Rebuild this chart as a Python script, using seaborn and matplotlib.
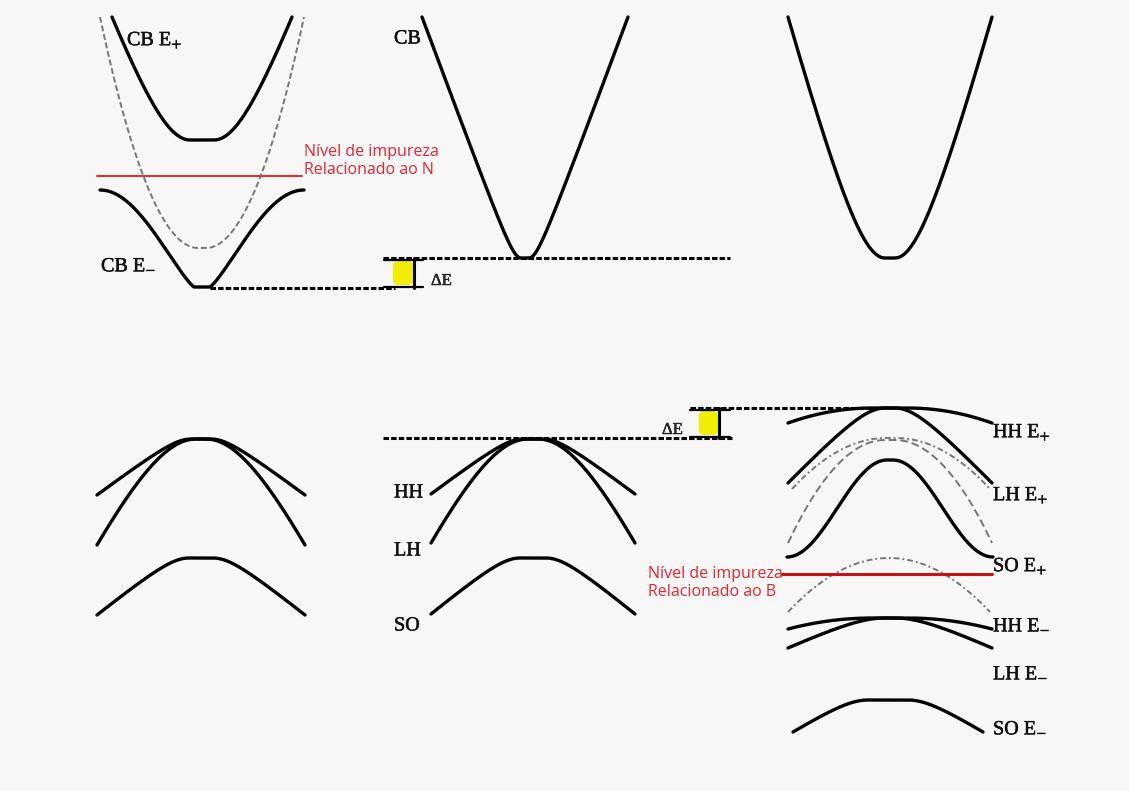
import numpy as np
import pandas as pd
import matplotlib
matplotlib.use("Agg")
import matplotlib.pyplot as plt
import matplotlib.patheffects as pe
import seaborn as sns
from matplotlib.patches import FancyBboxPatch

# ---------------- data (pixel-like units) ----------------
band_names = ["CB E+", "CB0", "CB E-", "CB", "CBr",
              "HHl", "LHl", "SOl",
              "HH", "LH", "SO",
              "HH E+", "LH E+", "gA", "gB", "SO E+", "gC", "HH E-", "LH E-", "SO E-"]
band_center = [202, 202, 202, 525, 890,
               201, 201, 201,
               533, 533, 533,
               890, 890, 891, 890, 890, 889, 890, 890, 888]
band_halfwidth = [90, 102, 102, 103, 102,
                  104, 104, 104,
                  102, 102, 102,
                  102, 102, 99, 102, 103, 101, 102, 102, 95]
band_apex = [140, 248, 287, 258, 258,
             439, 439, 558,
             439, 439, 558,
             408, 408, 438, 440, 460, 558, 618, 618, 700]
band_end = [17, 17, 190, 17, 17,
            495, 545, 615,
            494, 543, 614,
            423, 483, 489, 543, 557, 612, 629, 648, 732]
band_kind = ["hyp", "hyp", "bell", "hyp", "hyp",
             "hyp", "hyp", "hyp",
             "hyp", "hyp", "hyp",
             "hyp", "hyp", "hyp", "hyp", "bell", "hyp", "hyp", "hyp", "hyp"]
band_bend = [45, 1000, 1.2, 10, 40,
             22, 70, 25,
             22, 70, 25,
             1000, 30, 1000, 1000, 2.0, 1000, 1000, 40, 30]
band_flat = [12, 4, 8, 4, 5,
             10, 5, 12,
             10, 5, 13,
             18, 5, 5, 5, 3, 0, 18, 5, 20]

level_y = [288, 258, 438, 408]
level_x0 = [210, 383, 383, 690]
level_x1 = [395, 730, 732, 880]

impurity_y = [176, 574]
impurity_x0 = [97, 782]
impurity_x1 = [302, 992]
impurity_labels = ["Nível de impureza\nRelacionado ao N", "Nível de impureza\nRelacionado ao B"]

# ---------------- styles ----------------
gray_styles = {"CB0": (0, (3, 1.5)), "gA": (0, (3, 1.5, 1, 1.5)), "gB": (0, (4, 2)),
               "gC": (0, (3, 1.5, 1, 1.5))}

sns.set_theme(style="white")
plt.rcParams["mathtext.fontset"] = "stix"
plt.rcParams["font.family"] = ["Liberation Serif", "DejaVu Serif"]

fig = plt.figure(figsize=(11.29, 7.91), dpi=100)
bg = "#f7f7f7"
fig.patch.set_facecolor(bg)
ax = fig.add_axes([0, 0, 1, 1])
ax.set_facecolor(bg)
ax.set_xlim(0, 1129)
ax.set_ylim(791, 0)
ax.axis("off")


def band_curve(c, hw, apex, end, kind, bend, flat):
    xs = np.linspace(c - hw, c + hw, 400)
    d = np.clip(np.abs(xs - c) - flat, 0, None)
    D = hw - flat
    if kind == "hyp":
        f = (np.sqrt(1 + (d / bend) ** 2) - 1) / (np.sqrt(1 + (D / bend) ** 2) - 1)
    else:
        f = np.sin(np.pi / 2 * d / D) ** bend
    return xs, apex + (end - apex) * f


for i, name in enumerate(band_names):
    xs, ys = band_curve(band_center[i], band_halfwidth[i], band_apex[i], band_end[i],
                        band_kind[i], band_bend[i], band_flat[i])
    df = pd.DataFrame({"k": xs, "E": ys})
    if name in gray_styles:
        sns.lineplot(data=df, x="k", y="E", ax=ax, color="#777777", lw=1.4,
                     linestyle=gray_styles[name], estimator=None, sort=False)
    else:
        sns.lineplot(data=df, x="k", y="E", ax=ax, color="black", lw=2.4,
                     estimator=None, sort=False, solid_capstyle="round")

# dotted reference levels
for y, x0, x1 in zip(level_y, level_x0, level_x1):
    ax.plot([x0, x1], [y, y], color="black", lw=2.2, linestyle=(0, (1.8, 0.7)))

# impurity levels
red_font = ["Open Sans", "DejaVu Sans"]
ax.plot([impurity_x0[0], impurity_x1[0]], [impurity_y[0]] * 2, color="#e8262b", lw=1.4)
ax.plot([impurity_x0[1], impurity_x1[1]], [impurity_y[1]] * 2, color="#c3121c", lw=2.2)
ax.text(304, 161, impurity_labels[0], color="#e3262b", fontsize=11.5,
        family=red_font, va="center", ha="left", linespacing=1.25)
ax.text(648, 583, impurity_labels[1], color="#e3262b", fontsize=11.5,
        family=red_font, va="center", ha="left", linespacing=1.25)

# delta-E markers
def delta_marker(xl, xr, xv, ytop, ybot):
    box = FancyBboxPatch((xl + 9, ytop + 3), xv - xl - 10, ybot - ytop - 6,
                         boxstyle="round,pad=0,rounding_size=5",
                         facecolor="#f2ee00", edgecolor="none", zorder=3)
    ax.add_patch(box)
    ax.plot([xv, xv], [ytop, ybot], color="black", lw=2.2, zorder=4)
    ax.plot([xl, xr], [ytop + 2, ytop + 2], color="black", lw=1.6, zorder=4)
    ax.plot([xl, xr], [ybot - 1, ybot - 1], color="black", lw=1.6, zorder=4)


heavy = [pe.withStroke(linewidth=0.35, foreground="#111111")]
delta_marker(384, 423, 414, 258, 288)
delta_marker(690, 730, 719, 408, 438)
ax.text(431, 281, "ΔE", fontsize=12, va="center", ha="left", path_effects=heavy)
ax.text(662, 430, "ΔE", fontsize=12, va="center", ha="left", path_effects=heavy)

# band labels
lab_fs = 14.5
labels = [
    (127, 40, "CB E$_{+}$"), (101, 267, "CB E$_{-}$"), (394, 39, "CB"),
    (394, 493, "HH"), (394, 551, "LH"), (394, 626, "SO"),
    (993, 432, "HH E$_{+}$"), (993, 495, "LH E$_{+}$"), (993, 566, "SO E$_{+}$"),
    (993, 627, "HH E$_{-}$"), (993, 675, "LH E$_{-}$"), (993, 730, "SO E$_{-}$"),
]
for x, y, t in labels:
    ax.text(x, y, t, fontsize=lab_fs, va="center", ha="left", color="#111111",
            path_effects=heavy)

fig.savefig("out.png", dpi=100, facecolor=bg)
